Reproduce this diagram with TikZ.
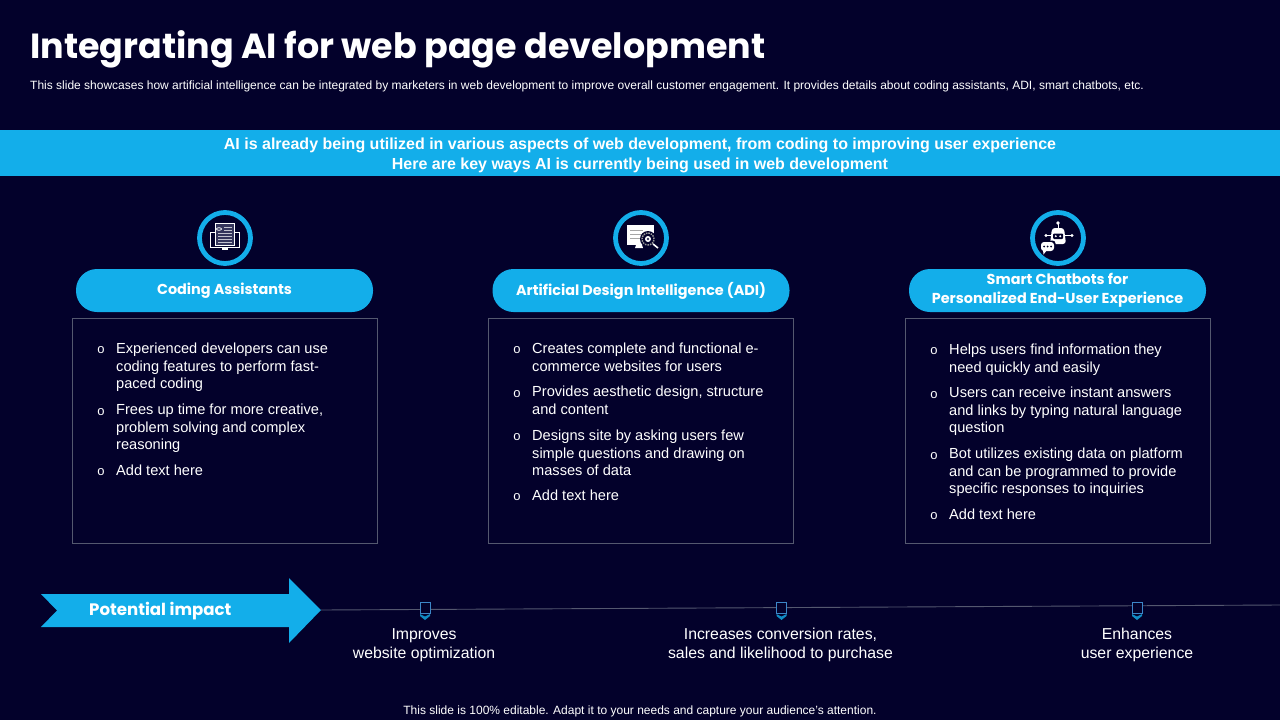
\documentclass[tikz,border=0pt]{standalone}
\usepackage{fontspec}
\setmainfont{Liberation Sans}
\newfontfamily\headfont{Poppins}
\definecolor{pagebg}{HTML}{03012B}
\definecolor{skyblue}{HTML}{13AEEA}
\definecolor{panelline}{HTML}{54586F}
\definecolor{tickblue}{HTML}{3C86C8}
\definecolor{iconfill}{HTML}{35355C}
\tikzset{
  pillbox/.style={draw=none, fill=skyblue, rounded corners=21pt, minimum width=297pt, minimum height=43pt, inner sep=0pt, align=center, text=white, font=\headfont\bfseries\fontsize{14.4}{19}\selectfont},
  panelbox/.style={draw=panelline, line width=0.8pt, minimum width=305pt, minimum height=225pt, inner sep=0pt},
  ringnode/.style={circle, draw=skyblue, line width=4.8pt, minimum size=51pt, inner sep=0pt},
  itemtext/.style={anchor=north west, inner sep=0pt, align=left, text=white, font=\fontsize{14.6}{17.7}\selectfont},
  itemmark/.style={inner sep=0pt, text=white, font=\fontsize{13}{13}\selectfont},
  impacttext/.style={anchor=north, inner sep=0pt, align=center, text=white, font=\fontsize{15.8}{19.2}\selectfont},
  tickmark/.style={draw=tickblue, line width=0.9pt, fill=pagebg, minimum width=10pt, minimum height=11pt, inner sep=0pt},
}
\begin{document}
\begin{tikzpicture}[x=1pt,y=-1pt]
    \useasboundingbox (0,0) rectangle (1280,720);
    \fill[pagebg] (0,0) rectangle (1280,720);

    % Title
    \node[anchor=west, inner sep=0pt, text=white, font=\headfont\bfseries\fontsize{34.9}{40}\selectfont] (title) at (30,49) {Integrating AI for web page development};
    \node[anchor=west, inner sep=0pt, text=white, font=\fontsize{12}{14}\selectfont] (subtitle) at (30,86) {This slide showcases how artificial intelligence can be integrated by marketers in web development to improve overall customer engagement. It provides details about coding assistants, ADI, smart chatbots, etc.};

    % Band
    \fill[skyblue] (0,130) rectangle (1280,176);
    \node[inner sep=0pt, align=center, text=white, font=\bfseries\fontsize{16}{19.2}\selectfont] (band) at (640,155.3) {AI is already being utilized in various aspects of web development, from coding to improving user experience\\Here are key ways AI is currently being used in web development};

    % Rings
    \node[ringnode] (ringa) at (225,238) {};
    \node[ringnode] (ringb) at (641,238) {};
    \node[ringnode] (ringc) at (1058,238) {};

    % Coding icon
    \draw[white, line width=1pt, fill=pagebg] (210.5,232) rectangle (239.5,247);
    \fill[white] (222,247) rectangle (228,250);
    \draw[white, line width=1pt, fill=iconfill] (215.5,223.5) rectangle (234.5,245);
    \draw[white, line width=0.8pt] (219,229) ellipse (2.5pt and 1.3pt);
    \foreach \ypos in {233,236,239,242}
        \draw[white!70!iconfill, line width=0.6pt] (218,\ypos) -- (232,\ypos);
    \draw[white!70!iconfill, line width=0.6pt] (224,227) -- (232,227);
    \draw[white!70!iconfill, line width=0.6pt] (224,230) -- (232,230);

    % Design icon
    \fill[white] (627,225) rectangle (654,245);
    \fill[white] (636,245) -- (642,245) -- (643,248) -- (635,248) -- cycle;
    \foreach \ypos in {230,234,238}
        \draw[gray!70, line width=0.8pt] (630,\ypos) -- (643,\ypos);
    \fill[pagebg] (648,239) circle (8pt);
    \draw[gray!80, line width=1.4pt, dash pattern=on 1.5pt off 1pt] (648,239) circle (6pt);
    \fill[white] (648,239) circle (3pt);
    \fill[iconfill] (648,239) circle (1.4pt);
    \draw[white, line width=1.6pt] (653,244) -- (658,248);

    % Chatbot icon
    \draw[white, line width=0.9pt] (1058,223) -- (1058,229);
    \fill[white] (1058,223) circle (1.8pt);
    \draw[white, line width=0.9pt] (1046,235.5) -- (1072,235.5);
    \fill[white] (1046,235.5) circle (1.6pt);
    \fill[white] (1072,235.5) circle (1.6pt);
    \fill[white, rounded corners=3pt] (1052,228) -- (1064,228) -- (1066,244) -- (1050,244) -- cycle;
    \fill[pagebg, rounded corners=1pt] (1053,233.5) rectangle (1063,239);
    \fill[white] (1055.8,236.2) circle (1.1pt);
    \fill[white] (1060.2,236.2) circle (1.1pt);
    \fill[pagebg, rounded corners=3pt] (1039.5,240.5) rectangle (1055.5,252.5);
    \fill[white, rounded corners=3pt] (1041,242) rectangle (1054,251);
    \fill[white] (1043,250) -- (1047,250) -- (1043.5,254.5) -- cycle;
    \foreach \xpos in {1044,1047.5,1051}
        \fill[pagebg] (\xpos,246.5) circle (1pt);

    % Headings
    \node[pillbox] (heada) at (224.5,290.5) {\raisebox{-0.8pt}{Coding Assistants}};
    \node[pillbox] (headb) at (641,290.5) {Artificial Design Intelligence (ADI)};
    \node[pillbox] (headc) at (1057.5,290.5) {\raisebox{-0.5pt}{Smart Chatbots for}\\\raisebox{-0.5pt}{Personalized End-User Experience}};

    % Panels
    \node[panelbox] (panela) at (225,431) {};
    \node[panelbox] (panelb) at (641,431) {};
    \node[panelbox] (panelc) at (1058,431) {};

    % Coding items
    \node[itemmark] (marka1) at (101,350.5) {o};
    \node[itemtext] (itema1) at (116,342.6) {Experienced developers can use\\coding features to perform fast-\\paced coding};
    \node[itemmark] (marka2) at (101,412) {o};
    \node[itemtext] (itema2) at (116,403.6) {Frees up time for more creative,\\problem solving and complex\\reasoning};
    \node[itemmark] (marka3) at (101,472.5) {o};
    \node[itemtext] (itema3) at (116,464.6) {Add text here};

    % Design items
    \node[itemmark] (markb1) at (517,350.5) {o};
    \node[itemtext] (itemb1) at (532,342.6) {Creates complete and functional e-\\commerce websites for users};
    \node[itemmark] (markb2) at (517,394) {o};
    \node[itemtext] (itemb2) at (532,385.6) {Provides aesthetic design, structure\\and content};
    \node[itemmark] (markb3) at (517,437.5) {o};
    \node[itemtext] (itemb3) at (532,429.6) {Designs site by asking users few\\simple questions and drawing on\\masses of data};
    \node[itemmark] (markb4) at (517,497.5) {o};
    \node[itemtext] (itemb4) at (532,489.6) {Add text here};

    % Chatbot items
    \node[itemmark] (markc1) at (934,351.5) {o};
    \node[itemtext] (itemc1) at (949,343.6) {Helps users find information they\\need quickly and easily};
    \node[itemmark] (markc2) at (934,395) {o};
    \node[itemtext] (itemc2) at (949,386.6) {Users can receive instant answers\\and links by typing natural language\\question};
    \node[itemmark] (markc3) at (934,456) {o};
    \node[itemtext] (itemc3) at (949,447.6) {Bot utilizes existing data on platform\\and can be programmed to provide\\specific responses to inquiries};
    \node[itemmark] (markc4) at (934,516.5) {o};
    \node[itemtext] (itemc4) at (949,508.6) {Add text here};

    % Impact arrow
    \fill[skyblue] (41,594) -- (289,594) -- (289,578) -- (321,610) -- (289,643) -- (289,627) -- (41,627) -- (57,610.5) -- cycle;
    \node[anchor=west, inner sep=0pt, text=white, font=\headfont\bfseries\fontsize{16.6}{20}\selectfont] (impact) at (89,611.5) {Potential impact};
    \coordinate (arrowtip) at (321,610);
    \coordinate (lineend) at (1280,605);

    % Timeline
    \draw[panelline, line width=0.9pt] (arrowtip) -- (lineend);
    \foreach \name/\xpos in {ticka/425, tickb/781.5, tickc/1137}
    {
        \node[tickmark] (\name) at (\xpos,607.5) {};
        \fill[skyblue!80!pagebg] (\xpos-5,614) -- (\xpos,616.5) -- (\xpos+5,614) -- (\xpos+5,616) -- (\xpos,620) -- (\xpos-5,616) -- cycle;
    }
    \node[impacttext] (impa) at (424,628) {Improves\\website optimization};
    \node[impacttext] (impb) at (780.5,628) {Increases conversion rates,\\sales and likelihood to purchase};
    \node[impacttext] (impc) at (1137,628) {Enhances\\user experience};

    % Footer
    \node[inner sep=0pt, text=white, font=\fontsize{12}{14}\selectfont] (footer) at (640,711.5) {This slide is 100\% editable. Adapt it to your needs and capture your audience's attention.};
\end{tikzpicture}
\end{document}
